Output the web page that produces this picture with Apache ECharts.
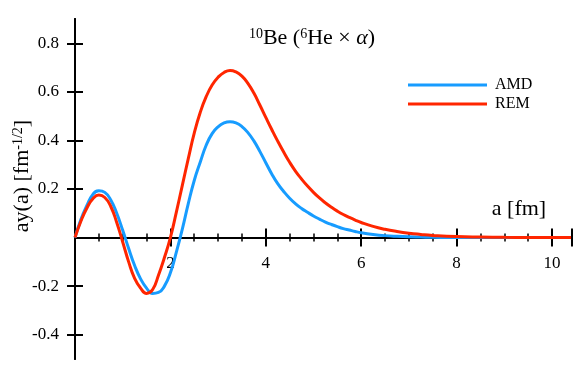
<!DOCTYPE html>
<html>
<head>
<meta charset="utf-8">
<script src="https://cdn.jsdelivr.net/npm/echarts@6/dist/echarts.min.js"></script>
<style>
  html, body { margin: 0; padding: 0; background: #fff; }
  #chart { width: 581px; height: 378px; }
</style>
</head>
<body>
<div id="chart"></div>
<script>
  // a [fm]
  const aValues = [0, 0.125, 0.25, 0.375, 0.5, 0.625, 0.75, 0.875, 1.0, 1.125, 1.25, 1.375, 1.5, 1.625, 1.75, 1.875,
    2.0, 2.125, 2.25, 2.375, 2.5, 2.625, 2.75, 2.875, 3.0, 3.125, 3.25, 3.375, 3.5, 3.625, 3.75, 3.875,
    4.0, 4.125, 4.25, 4.375, 4.5, 4.625, 4.75, 4.875, 5.0, 5.125, 5.25, 5.375, 5.5, 5.625, 5.75, 5.875,
    6.0, 6.25, 6.5, 6.75, 7.0, 7.25, 7.5, 8.0, 8.5, 9.0, 9.5, 10.0, 10.4];
  // ay(a) AMD
  const amdValues = [0, 0.075, 0.132, 0.178, 0.193, 0.186, 0.155, 0.1, 0.03, -0.045, -0.115, -0.17, -0.208, -0.23, -0.226, -0.2,
    -0.145, -0.06, 0.035, 0.14, 0.235, 0.31, 0.38, 0.428, 0.456, 0.472, 0.477, 0.472, 0.457, 0.432, 0.398, 0.355,
    0.308, 0.262, 0.222, 0.19, 0.162, 0.139, 0.12, 0.104, 0.089, 0.076, 0.064, 0.054, 0.045, 0.037, 0.031, 0.025,
    0.02, 0.013, 0.008, 0.005, 0.003, 0.002, 0.001, 0, 0, 0, 0, 0, 0];
  // ay(a) REM
  const remValues = [0, 0.068, 0.122, 0.16, 0.175, 0.165, 0.128, 0.062, -0.018, -0.1, -0.168, -0.208, -0.23, -0.215, -0.155, -0.082,
    0.0, 0.105, 0.215, 0.325, 0.43, 0.515, 0.58, 0.628, 0.66, 0.68, 0.688, 0.682, 0.665, 0.635, 0.595, 0.546,
    0.495, 0.445, 0.397, 0.352, 0.31, 0.273, 0.241, 0.212, 0.186, 0.163, 0.143, 0.125, 0.109, 0.095, 0.083, 0.072,
    0.062, 0.046, 0.034, 0.025, 0.018, 0.013, 0.009, 0.004, 0.002, 0.001, 0.0005, 0.0002, 0];
  const xTicks = [2, 4, 6, 8, 10];
  const yTicks = [-0.4, -0.2, 0.2, 0.4, 0.6, 0.8];

  const serif = 'Liberation Serif';
  const amdColor = '#179cff';
  const remColor = '#ff2600';
  const yMin = -0.5, yMax = 0.9;
  const gridTop = 19, gridBottom = 19, chartH = 378;

  const toPairs = (ys) => aValues.map((a, i) => [a, ys[i]]);

  // distance from grid bottom up to the y = 0 line
  const zeroOffset = (chartH - gridTop - gridBottom) * (0 - yMin) / (yMax - yMin);

  const chart = echarts.init(document.getElementById('chart'));

  const xBase = {
    type: 'value',
    min: 0,
    max: 10.42,
    interval: 2,
    splitLine: { show: false },
    axisLine: { onZero: true, lineStyle: { color: '#000', width: 2 } },
    axisTick: { length: 9, lineStyle: { color: '#000', width: 2 } },
    minorTick: { show: true, splitNumber: 4, length: 4, lineStyle: { color: '#000', width: 1.5 } },
    axisLabel: { show: false }
  };
  const yBase = {
    type: 'value',
    min: yMin,
    max: yMax,
    position: 'left',
    splitLine: { show: false },
    axisLine: { lineStyle: { color: '#000', width: 2 } },
    axisTick: { length: 8, customValues: yTicks, lineStyle: { color: '#000', width: 2 } }
  };

  chart.setOption({
    animation: false,
    grid: { left: 75, right: 9, top: gridTop, bottom: gridBottom, outerBoundsMode: 'none', containLabel: false },
    legend: {
      orient: 'vertical',
      left: 408,
      top: 77,
      padding: 0,
      icon: 'rect',
      itemWidth: 79,
      itemHeight: 3,
      itemGap: 3,
      textStyle: { fontFamily: serif, fontSize: 16, color: '#000', padding: [0, 0, 0, 3] },
      data: ['AMD', 'REM']
    },
    xAxis: [
      Object.assign({}, xBase, { position: 'bottom' }),
      Object.assign({}, xBase, { position: 'top' }),
      {
        // tick labels just under the zero line
        type: 'value',
        min: 0,
        max: 10.42,
        interval: 2,
        position: 'bottom',
        offset: -zeroOffset,
        axisLine: { show: false, onZero: false },
        axisTick: { show: false },
        splitLine: { show: false },
        axisLabel: {
          margin: 17,
          fontFamily: serif,
          fontSize: 17,
          color: '#000',
          formatter: (v) => (xTicks.indexOf(v) >= 0 ? String(v) : '')
        }
      }
    ],
    yAxis: [
      Object.assign({}, yBase, {
        axisLabel: {
          customValues: yTicks,
          margin: 16,
          fontFamily: serif,
          fontSize: 17,
          color: '#000'
        }
      }),
      Object.assign({}, yBase, {
        axisTick: Object.assign({}, yBase.axisTick, { inside: true }),
        axisLabel: { show: false }
      })
    ],
    graphic: [
      {
        type: 'text',
        x: 312,
        y: 38,
        style: {
          text: '{sup|10}Be ({sup|6}He × {it|α})',
          align: 'center',
          verticalAlign: 'middle',
          fontFamily: serif,
          fontSize: 22,
          fill: '#000',
          rich: {
            sup: { fontFamily: serif, fontSize: 14, verticalAlign: 'top', fill: '#000' },
            it: { fontFamily: serif, fontSize: 22, fontStyle: 'italic', fill: '#000' }
          }
        }
      },
      {
        type: 'text',
        x: 22,
        y: 176,
        rotation: Math.PI / 2,
        style: {
          text: 'ay(a) [fm{sup|-1/2}]',
          align: 'center',
          verticalAlign: 'middle',
          fontFamily: serif,
          fontSize: 22,
          fill: '#000',
          rich: {
            sup: { fontFamily: serif, fontSize: 14, verticalAlign: 'top', fill: '#000' }
          }
        }
      },
      {
        type: 'text',
        x: 519,
        y: 209,
        style: {
          text: 'a [fm]',
          align: 'center',
          verticalAlign: 'middle',
          fontFamily: serif,
          fontSize: 22,
          fill: '#000'
        }
      }
    ],
    series: [
      {
        name: 'AMD',
        type: 'line',
        smooth: true,
        symbol: 'none',
        showSymbol: false,
        lineStyle: { color: amdColor, width: 3 },
        itemStyle: { color: amdColor },
        data: toPairs(amdValues)
      },
      {
        name: 'REM',
        type: 'line',
        smooth: true,
        symbol: 'none',
        showSymbol: false,
        lineStyle: { color: remColor, width: 3 },
        itemStyle: { color: remColor },
        data: toPairs(remValues)
      }
    ]
  });
</script>
</body>
</html>
